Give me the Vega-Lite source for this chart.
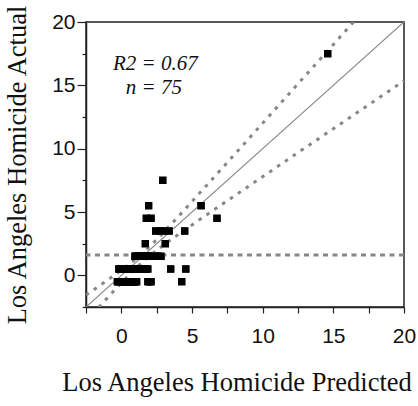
{
  "$schema": "https://vega.github.io/schema/vega-lite/v6.json",
  "autosize": "none",
  "width": 318,
  "height": 285,
  "padding": {"left": 86, "top": 22, "right": 14, "bottom": 99},
  "background": "white",
  "config": {
    "view": {"stroke": "#222", "strokeWidth": 1.5},
    "axis": {
      "grid": false,
      "labelFont": "Liberation Sans",
      "labelFontSize": 21,
      "labelColor": "#111",
      "titleFont": "Liberation Serif",
      "titleFontSize": 26.5,
      "titleFontWeight": "normal",
      "titleColor": "#111",
      "tickColor": "#222",
      "domainColor": "#222",
      "domainWidth": 1.5,
      "tickWidth": 1.2
    }
  },
  "resolve": {"axis": {"x": "independent", "y": "independent"}},
  "datasets": {
    "points": [
      {"x": 14.6, "y": 17.5},
      {"x": 2.93, "y": 7.5},
      {"x": 1.93, "y": 5.5}, {"x": 5.64, "y": 5.5},
      {"x": 1.77, "y": 4.5}, {"x": 2.1, "y": 4.5}, {"x": 6.77, "y": 4.5},
      {"x": 2.43, "y": 3.5}, {"x": 2.75, "y": 3.5}, {"x": 3.05, "y": 3.5}, {"x": 3.38, "y": 3.5}, {"x": 4.48, "y": 3.5},
      {"x": 1.7, "y": 2.5}, {"x": 3.11, "y": 2.5},
      {"x": 0.97, "y": 1.5}, {"x": 1.1, "y": 1.5}, {"x": 1.3, "y": 1.5}, {"x": 1.5, "y": 1.5}, {"x": 1.7, "y": 1.5}, {"x": 1.9, "y": 1.5}, {"x": 2.1, "y": 1.5}, {"x": 2.3, "y": 1.5}, {"x": 2.5, "y": 1.5}, {"x": 2.81, "y": 1.5}, {"x": 1.0, "y": 1.5}, {"x": 1.4, "y": 1.5}, {"x": 1.8, "y": 1.5}, {"x": 2.2, "y": 1.5}, {"x": 2.6, "y": 1.5}, {"x": 1.2, "y": 1.5}, {"x": 2.0, "y": 1.5}, {"x": 1.6, "y": 1.5},
      {"x": -0.18, "y": 0.5}, {"x": 0, "y": 0.5}, {"x": 0.25, "y": 0.5}, {"x": 0.5, "y": 0.5}, {"x": 0.75, "y": 0.5}, {"x": 1.0, "y": 0.5}, {"x": 1.25, "y": 0.5}, {"x": 1.5, "y": 0.5}, {"x": 1.7, "y": 0.5}, {"x": 1.87, "y": 0.5}, {"x": 3.49, "y": 0.5}, {"x": 4.56, "y": 0.5}, {"x": 0.1, "y": 0.5}, {"x": 0.4, "y": 0.5}, {"x": 0.6, "y": 0.5}, {"x": 0.9, "y": 0.5}, {"x": 1.1, "y": 0.5}, {"x": 1.4, "y": 0.5}, {"x": 0.2, "y": 0.5}, {"x": 0.8, "y": 0.5}, {"x": 1.6, "y": 0.5}, {"x": -0.1, "y": 0.5},
      {"x": -0.28, "y": -0.5}, {"x": -0.1, "y": -0.5}, {"x": 0.1, "y": -0.5}, {"x": 0.3, "y": -0.5}, {"x": 0.5, "y": -0.5}, {"x": 0.7, "y": -0.5}, {"x": 0.9, "y": -0.5}, {"x": 1.08, "y": -0.5}, {"x": 1.88, "y": -0.5}, {"x": 2.1, "y": -0.5}, {"x": 4.27, "y": -0.5}, {"x": 0, "y": -0.5}, {"x": 0.2, "y": -0.5}, {"x": 0.4, "y": -0.5}, {"x": 0.6, "y": -0.5}, {"x": 0.8, "y": -0.5}, {"x": 1.0, "y": -0.5}, {"x": -0.2, "y": -0.5}, {"x": 0.05, "y": -0.5}, {"x": 0.45, "y": -0.5}, {"x": 2.0, "y": -0.5}
    ],
    "identity": [
      {"x": -2.5, "y": -2.5},
      {"x": 20, "y": 20}
    ],
    "bands": [
      {"band": "upper", "x": -2.5, "y": -1.56},
      {"band": "upper", "x": -1, "y": -0.4},
      {"band": "upper", "x": 0, "y": 0.41},
      {"band": "upper", "x": 1, "y": 1.27},
      {"band": "upper", "x": 1.5, "y": 1.75},
      {"band": "upper", "x": 2, "y": 2.27},
      {"band": "upper", "x": 3, "y": 3.41},
      {"band": "upper", "x": 4, "y": 4.6},
      {"band": "upper", "x": 5, "y": 5.83},
      {"band": "upper", "x": 6, "y": 7.06},
      {"band": "upper", "x": 8, "y": 9.53},
      {"band": "upper", "x": 10, "y": 12.01},
      {"band": "upper", "x": 12, "y": 14.5},
      {"band": "upper", "x": 14, "y": 16.98},
      {"band": "upper", "x": 16, "y": 19.47},
      {"band": "upper", "x": 18, "y": 21.96},
      {"band": "lower", "x": -2.5, "y": -3.64},
      {"band": "lower", "x": -1, "y": -1.8},
      {"band": "lower", "x": 0, "y": -0.6},
      {"band": "lower", "x": 1, "y": 0.53},
      {"band": "lower", "x": 1.5, "y": 1.05},
      {"band": "lower", "x": 2, "y": 1.53},
      {"band": "lower", "x": 3, "y": 2.4},
      {"band": "lower", "x": 4, "y": 3.2},
      {"band": "lower", "x": 5, "y": 3.98},
      {"band": "lower", "x": 6, "y": 4.75},
      {"band": "lower", "x": 8, "y": 6.27},
      {"band": "lower", "x": 10, "y": 7.79},
      {"band": "lower", "x": 12, "y": 9.31},
      {"band": "lower", "x": 14, "y": 10.82},
      {"band": "lower", "x": 16, "y": 12.33},
      {"band": "lower", "x": 18, "y": 13.84},
      {"band": "lower", "x": 20, "y": 15.36}
    ],
    "mean": [{"y": 1.6}],
    "notes": [
      {"x": 2.4, "y": 16.68, "label": "R2 = 0.67"},
      {"x": 2.3, "y": 14.78, "label": "n = 75"}
    ]
  },
  "layer": [
    {
      "data": {"name": "points"},
      "mark": {"type": "point", "shape": "square", "filled": true, "color": "#000", "opacity": 1, "size": 53, "strokeWidth": 0},
      "encoding": {
        "x": {
          "field": "x", "type": "quantitative",
          "scale": {"domain": [-2.5, 20], "nice": false, "zero": false},
          "axis": {
            "orient": "bottom",
            "title": "Los Angeles Homicide Predicted",
            "values": [0, 5, 10, 15, 20],
            "tickSize": 6,
            "labelPadding": 12,
            "labelFlush": false,
            "titleX": 150.5,
            "titleY": 83,
            "titleBaseline": "alphabetic",
            "titleAlign": "center"
          }
        },
        "y": {
          "field": "y", "type": "quantitative",
          "scale": {"domain": [-2.5, 20], "nice": false, "zero": false},
          "axis": {
            "orient": "left",
            "title": "Los Angeles Homicide Actual",
            "values": [0, 5, 10, 15, 20],
            "tickSize": 9,
            "labelPadding": 2,
            "labelFlush": false,
            "titleX": -61,
            "titleY": 142.5,
            "titleAngle": -90,
            "titleBaseline": "alphabetic",
            "titleAlign": "center"
          }
        }
      }
    },
    {
      "data": {"name": "mean"},
      "mark": {"type": "rule", "color": "#878787", "strokeWidth": 3, "strokeDash": [5, 4.5]},
      "encoding": {
        "y": {"field": "y", "type": "quantitative", "axis": null}
      }
    },
    {
      "data": {"name": "identity"},
      "mark": {"type": "line", "color": "#8a8a8a", "strokeWidth": 1.2, "clip": true},
      "encoding": {
        "x": {
          "field": "x", "type": "quantitative",
          "axis": {"orient": "bottom", "values": [-2.5, 2.5, 7.5, 12.5, 17.5], "labels": false, "title": null, "domain": false, "tickSize": 6}
        },
        "y": {
          "field": "y", "type": "quantitative",
          "axis": {"orient": "left", "values": [-2.5, 2.5, 7.5, 12.5, 17.5], "labels": false, "title": null, "domain": false, "tickSize": 4}
        }
      }
    },
    {
      "data": {"name": "bands"},
      "mark": {"type": "line", "color": "#878787", "strokeWidth": 3, "strokeDash": [3.5, 6], "interpolate": "monotone", "clip": true},
      "encoding": {
        "x": {"field": "x", "type": "quantitative", "axis": null},
        "y": {"field": "y", "type": "quantitative", "axis": null},
        "detail": {"field": "band", "type": "nominal"}
      }
    },
    {
      "data": {"name": "points"},
      "mark": {"type": "point", "shape": "square", "filled": true, "color": "#000", "opacity": 1, "size": 53, "strokeWidth": 0},
      "encoding": {
        "x": {"field": "x", "type": "quantitative", "axis": null},
        "y": {"field": "y", "type": "quantitative", "axis": null}
      }
    },
    {
      "data": {"name": "notes"},
      "mark": {"type": "text", "font": "Liberation Serif", "fontStyle": "italic", "fontSize": 21, "color": "#111", "align": "center", "baseline": "middle"},
      "encoding": {
        "x": {"field": "x", "type": "quantitative", "axis": null},
        "y": {"field": "y", "type": "quantitative", "axis": null},
        "text": {"field": "label"}
      }
    }
  ]
}
